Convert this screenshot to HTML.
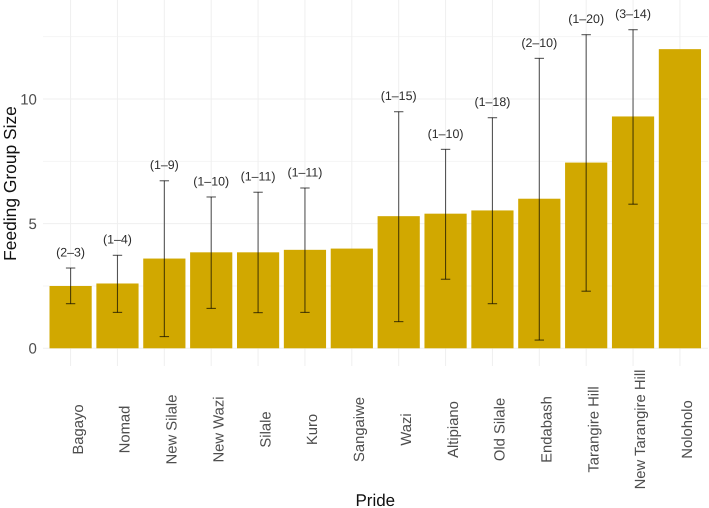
<!DOCTYPE html>
<html>
<head>
<meta charset="utf-8">
<style>
html,body{margin:0;padding:0;background:#fff;}
svg{display:block;font-family:"Liberation Sans",Arial,sans-serif;text-rendering:geometricPrecision;filter:blur(0.35px);}
</style>
</head>
<body>
<svg id="chart" width="709" height="508" viewBox="0 0 709 508" xmlns="http://www.w3.org/2000/svg">
  <rect x="0" y="0" width="709" height="508" fill="#ffffff"/>
  <g id="grid"></g>
  <g id="bars"></g>
  <g id="errs"></g>
  <g id="ranges"></g>
  <g id="yticks"></g>
  <g id="xticks"></g>
  <text transform="translate(15.8,183.5) rotate(-90)" text-anchor="middle" font-size="17.4" fill="#111">Feeding Group Size</text>
  <text x="375.3" y="506" text-anchor="middle" font-size="17" fill="#111">Pride</text>
</svg>
<script>
const categories = ["Bagayo","Nomad","New Silale","New Wazi","Silale","Kuro","Sangaiwe","Wazi","Altipiano","Old Silale","Endabash","Tarangire Hill","New Tarangire Hill","Noloholo"];
const meanValues = [2.5,2.6,3.6,3.85,3.85,3.95,4.0,5.3,5.4,5.53,6.0,7.45,9.3,12.0];
const errorUpper = [3.22,3.73,6.72,6.07,6.26,6.43,null,9.49,7.98,9.25,11.63,12.58,12.78,null];
const errorLower = [1.79,1.44,0.47,1.6,1.43,1.44,null,1.07,2.77,1.79,0.33,2.29,5.78,null];
const rangeLabels = ["(2–3)","(1–4)","(1–9)","(1–10)","(1–11)","(1–11)",null,"(1–15)","(1–10)","(1–18)","(2–10)","(1–20)","(3–14)",null];
const yTickValues = [0,5,10];
const yMinorValues = [2.5,7.5,12.5];

const NS = "http://www.w3.org/2000/svg";
const xAxis = i => 70.6 + i * 46.87;
const yAxis = v => 348.3 - v * 24.93;
const bandWidth = 42.2;

function mk(tag, attrs, parent) {
  const el = document.createElementNS(NS, tag);
  for (const k in attrs) el.setAttribute(k, attrs[k]);
  parent.appendChild(el);
  return el;
}
const grid = document.getElementById("grid");
const bars = document.getElementById("bars");
const errs = document.getElementById("errs");
const ranges = document.getElementById("ranges");
const yticks = document.getElementById("yticks");
const xticks = document.getElementById("xticks");

yMinorValues.forEach(v => {
  const l = mk("line", {x1:43, x2:708, y1:yAxis(v), y2:yAxis(v), stroke:"#f5f5f5", "stroke-width":1}, grid);
  
  
});
yTickValues.forEach(v => {
  const l = mk("line", {x1:43, x2:708, y1:yAxis(v), y2:yAxis(v), stroke:"#efefef", "stroke-width":1}, grid);
  
  
  const t = mk("text", {x:36.9, y:yAxis(v)+5.4, "text-anchor":"end", "font-size":15, fill:"#4d4d4d"}, yticks);
  
  
  t.textContent = v;
});
categories.forEach((c, i) => {
  const x = xAxis(i);
  const g = mk("line", {x1:x, x2:x, y1:0, y2:366, stroke:"#efefef", "stroke-width":1}, grid);
  
  

  const b = mk("rect", {x:x-bandWidth/2, y:yAxis(meanValues[i]), width:bandWidth, height:yAxis(0)-yAxis(meanValues[i]), fill:"#d1a800"}, bars);
  
  

  const t = mk("text", {transform:"translate("+(x+12.2)+",429.5) rotate(-90)", "text-anchor":"middle", "font-size":14.8, fill:"#4d4d4d"}, xticks);
  
  
  t.textContent = c;

  if (errorUpper[i] !== null) {
    const e = mk("g", {stroke:"#000", "stroke-opacity":0.65, "stroke-width":1.1, fill:"none"}, errs);
    
    
    mk("line", {x1:x, x2:x, y1:yAxis(errorUpper[i]), y2:yAxis(errorLower[i])}, e);
    mk("line", {x1:x-4.7, x2:x+4.7, y1:yAxis(errorUpper[i]), y2:yAxis(errorUpper[i])}, e);
    mk("line", {x1:x-4.7, x2:x+4.7, y1:yAxis(errorLower[i]), y2:yAxis(errorLower[i])}, e);

    const r = mk("text", {x:x, y:yAxis(errorUpper[i])-11.6, "text-anchor":"middle", "font-size":12.4, fill:"#2b2b2b"}, ranges);
    
    
    r.textContent = rangeLabels[i];
  }
});
</script>
</body>
</html>
